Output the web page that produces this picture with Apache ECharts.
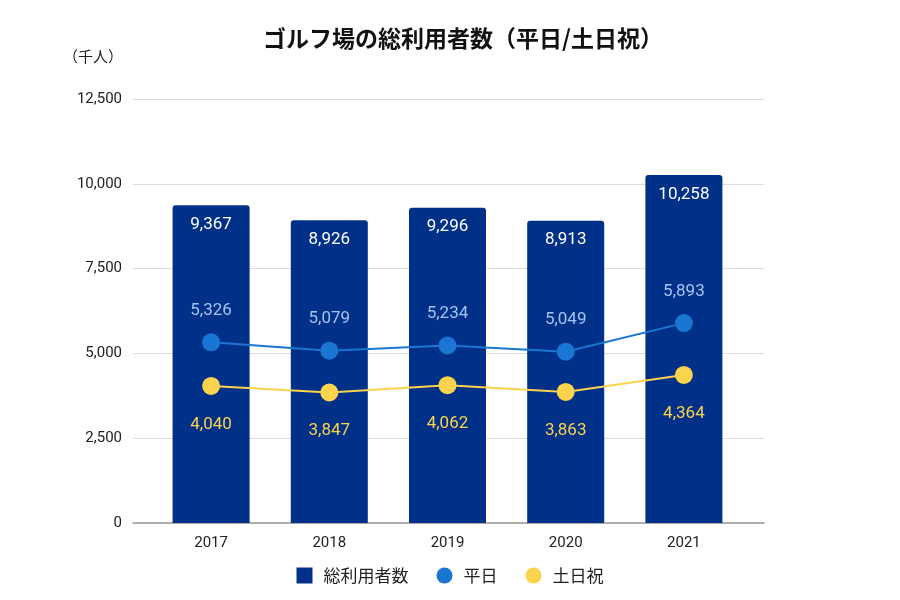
<!DOCTYPE html>
<html><head><meta charset="utf-8">
<script src="https://cdn.jsdelivr.net/npm/echarts@6/dist/echarts.min.js"></script>
<style>html,body{margin:0;padding:0;background:#fff}#c{width:900px;height:600px}</style>
</head><body><div id="c"></div>
<script>
const categories = ['2017','2018','2019','2020','2021'];
const totalUsers = [9367, 8926, 9296, 8913, 10258];
const weekday = [5326, 5079, 5234, 5049, 5893];
const holiday = [4040, 3847, 4062, 3863, 4364];
const yTicks = [0, 2500, 5000, 7500, 10000, 12500];

const font = '"Noto Sans CJK JP", Roboto, sans-serif';
const num = 'Roboto, sans-serif';
const fmt = v => Number(v).toLocaleString('en-US');
const yMin = yTicks[0], yMax = yTicks[yTicks.length - 1];
const chart = echarts.init(document.getElementById('c'));
chart.setOption({
  animation: false,
  textStyle: { fontFamily: font },
  title: { text: 'ゴルフ場の総利用者数（平日/土日祝）', left: 458, textAlign: 'center', top: 22,
    textStyle: { fontSize: 23, fontWeight: 'bold', color: '#111', fontFamily: font } },
  grid: [
    { left: 133, right: 136, top: 99, bottom: 77 },
    { left: 152, right: 157, top: 99, bottom: 77 }
  ],
  legend: { bottom: 11, left: 'center', itemGap: 28, itemWidth: 16, itemHeight: 16,
    textStyle: { fontSize: 17, color: '#222', fontFamily: font, padding: [0, 0, 0, 6] },
    data: [{ name: '総利用者数', icon: 'rect' }, { name: '平日', icon: 'circle' }, { name: '土日祝', icon: 'circle' }] },
  xAxis: [
    { type: 'value', gridIndex: 0, min: 0, max: 1, show: true,
      axisLine: { show: true, onZero: false, lineStyle: { color: '#999', width: 1.5 } },
      axisTick: { show: false }, axisLabel: { show: false }, splitLine: { show: false } },
    { type: 'category', gridIndex: 1, data: categories,
      axisLine: { show: false }, axisTick: { show: false },
      axisLabel: { color: '#222', fontSize: 15, margin: 13, fontFamily: num } }
  ],
  yAxis: [
    { type: 'value', gridIndex: 0, min: yMin, max: yMax, interval: 2500,
      name: '（千人）', nameLocation: 'end', nameGap: 35,
      nameTextStyle: { color: '#222', fontSize: 15, align: 'right', padding: [0, 10, 0, 0] },
      axisLine: { show: false }, axisTick: { show: false },
      axisLabel: { color: '#222', fontSize: 15, margin: 11, formatter: v => fmt(v), fontFamily: num },
      splitLine: { lineStyle: { color: '#dcdcdc' } } },
    { type: 'value', gridIndex: 1, min: yMin, max: yMax, interval: 2500, show: false,
      splitLine: { show: false } }
  ],
  series: [
    { name: '総利用者数', type: 'bar', xAxisIndex: 1, yAxisIndex: 1, data: totalUsers, barWidth: 77,
      itemStyle: { color: '#003087', borderRadius: [3, 3, 0, 0] },
      label: { show: true, position: 'insideTop', distance: 11, color: '#fff', fontSize: 17,
        fontFamily: num, formatter: p => fmt(p.value) } },
    { name: '平日', type: 'line', xAxisIndex: 1, yAxisIndex: 1, data: weekday, symbol: 'circle', symbolSize: 18,
      itemStyle: { color: '#1976d2' }, lineStyle: { color: '#1976d2', width: 2 },
      label: { show: true, position: 'top', distance: 14, color: '#a4c4f0', fontSize: 17,
        fontFamily: num, formatter: p => fmt(p.value) } },
    { name: '土日祝', type: 'line', xAxisIndex: 1, yAxisIndex: 1, data: holiday, symbol: 'circle', symbolSize: 18,
      itemStyle: { color: '#fcd34d' }, lineStyle: { color: '#fcd34d', width: 2 },
      label: { show: true, position: 'bottom', distance: 21, color: '#fcd34d', fontSize: 17,
        fontFamily: num, formatter: p => fmt(p.value) } }
  ]
});
</script></body></html>
